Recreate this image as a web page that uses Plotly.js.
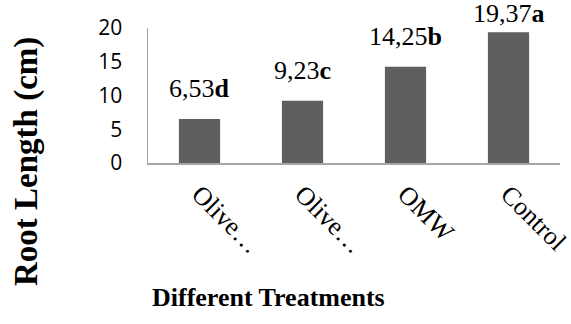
<!DOCTYPE html>
<html>
<head>
<meta charset="utf-8">
<script src="https://cdn.plot.ly/plotly-3.0.1.min.js"></script>
<style>html,body{margin:0;padding:0;background:#fff;}#chart{width:571px;height:324px;}</style>
</head>
<body>
<div id="chart"></div>
<script>
// Data
const categories = ["Olive…", "Olive… ", "OMW", "Control"];
const rootLength = [6.53, 9.23, 14.25, 19.37];
const valueLabels = ["6,53", "9,23", "14,25", "19,37"];
const groupLetters = ["d", "c", "b", "a"];
const yTickVals = [0, 5, 10, 15, 20];

const W = 571, H = 324;
const M = {l: 148, r: 11, t: 28, b: 161};
const plotH = H - M.t - M.b;
const plotW = W - M.l - M.r;
const yMax = 20;

const serif = "Liberation Serif, Times New Roman, serif";

const annotations = rootLength.map((v, i) => {
  const topPx = M.t + (1 - v / yMax) * plotH;  // bar top in pixels
  const textH = 30;
  let shift = 14;
  if (topPx - shift - textH < 2) shift = Math.max(2, topPx - textH - 2);
  return {
    x: categories[i], y: v, xref: 'x', yref: 'y',
    text: valueLabels[i] + '<b>' + groupLetters[i] + '</b>',
    showarrow: false, xanchor: 'center', yanchor: 'bottom', yshift: shift,
    font: {family: serif, size: 26, color: '#000'}
  };
});

annotations.push({
  text: '<b>Different Treatments</b>', showarrow: false,
  xref: 'paper', yref: 'paper',
  x: (268 - M.l) / plotW, y: -(297 - (H - M.b)) / plotH,
  xanchor: 'center', yanchor: 'middle',
  font: {family: serif, size: 26, color: '#000'}
});
annotations.push({
  text: '<b>Root Length (cm)</b>', showarrow: false, textangle: -90,
  xref: 'paper', yref: 'paper',
  x: (26 - M.l) / plotW, y: (H - M.b - 162) / plotH,
  xanchor: 'center', yanchor: 'middle',
  font: {family: serif, size: 33, color: '#000'}
});

const trace = {
  type: 'bar', x: categories, y: rootLength,
  marker: {color: '#5f5f5f'}, hoverinfo: 'none'
};

const layout = {
  width: W, height: H, margin: M,
  paper_bgcolor: '#fff', plot_bgcolor: '#fff',
  showlegend: false, bargap: 0.6,
  xaxis: {
    type: 'category', showgrid: false, zeroline: false,
    showline: true, linecolor: '#a6a6a6', linewidth: 1.5,
    ticks: '', tickangle: 45, automargin: false,
    ticklabelstandoff: 4,
    tickfont: {family: serif, size: 26, color: '#000'}
  },
  yaxis: {
    range: [0, yMax], tickvals: yTickVals, ticktext: yTickVals.map(String),
    showgrid: false, zeroline: false,
    showline: true, linecolor: '#a6a6a6', linewidth: 1.5,
    ticks: '', automargin: false, ticklabelstandoff: 20,
    tickfont: {family: "Open Sans, sans-serif", size: 21, color: '#000'}
  },
  annotations: annotations
};

Plotly.newPlot('chart', [trace], layout, {staticPlot: true, displayModeBar: false});
</script>
</body>
</html>
